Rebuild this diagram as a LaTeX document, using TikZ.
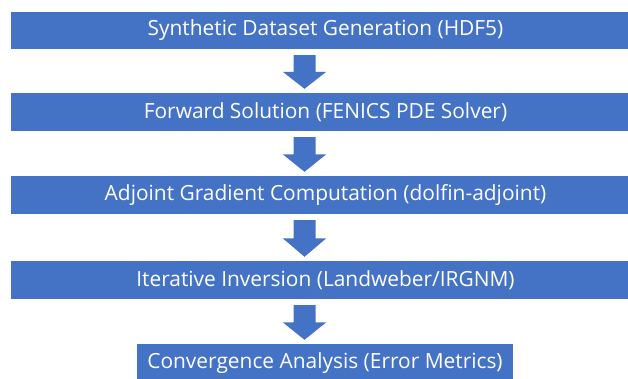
\documentclass[tikz,border=0pt]{standalone}
\usepackage{fontspec}
\setmainfont{Open Sans}
\usetikzlibrary{calc}
\definecolor{boxblue}{HTML}{4472C4}
\tikzset{
  stagebox/.style={fill=boxblue, draw=none, text=white, inner sep=0pt,
    minimum height=38pt, font=\fontsize{20.9}{24}\selectfont},
  widebox/.style={stagebox, minimum width=629pt},
}
\newcommand\blkarrow[2]{%
  \fill[boxblue] let \p1=($(#1.south -| ax)+(0,-6)$), \p2=($(#2.north -| ax)+(0,4)$),
    \n1={(\y1+\y2)/2} in
    (\x1-11pt,\y1) -- (\x1+11pt,\y1) -- (\x1+11pt,\n1) -- (\x1+21.5pt,\n1) --
    (\x1,\y2) -- (\x1-21.5pt,\n1) -- (\x1-11pt,\n1) -- cycle;}
\begin{document}
\begin{tikzpicture}[x=1pt,y=1pt]
\useasboundingbox (0,0) rectangle (628,379);
\fill[white] (0,0) rectangle (628,379);
\coordinate (ax) at (304.5,0);
\node[widebox, minimum height=37pt] (b1) at (325.5,379-30.5) {Synthetic Dataset Generation (HDF5)};
\node[widebox] (b2) at (325.5,379-112) {Forward Solution (FENICS PDE Solver)};
\node[widebox] (b3) at (325.5,379-195) {Adjoint Gradient Computation (dolfin-adjoint)};
\node[widebox] (b4) at (325.5,379-280) {Iterative Inversion (Landweber/IRGNM)};
\node[stagebox, minimum width=376pt] (b5) at (325,379-363) {Convergence Analysis (Error Metrics)};
\blkarrow{b1}{b2}
\blkarrow{b2}{b3}
\blkarrow{b3}{b4}
\blkarrow{b4}{b5}
\end{tikzpicture}
\end{document}
